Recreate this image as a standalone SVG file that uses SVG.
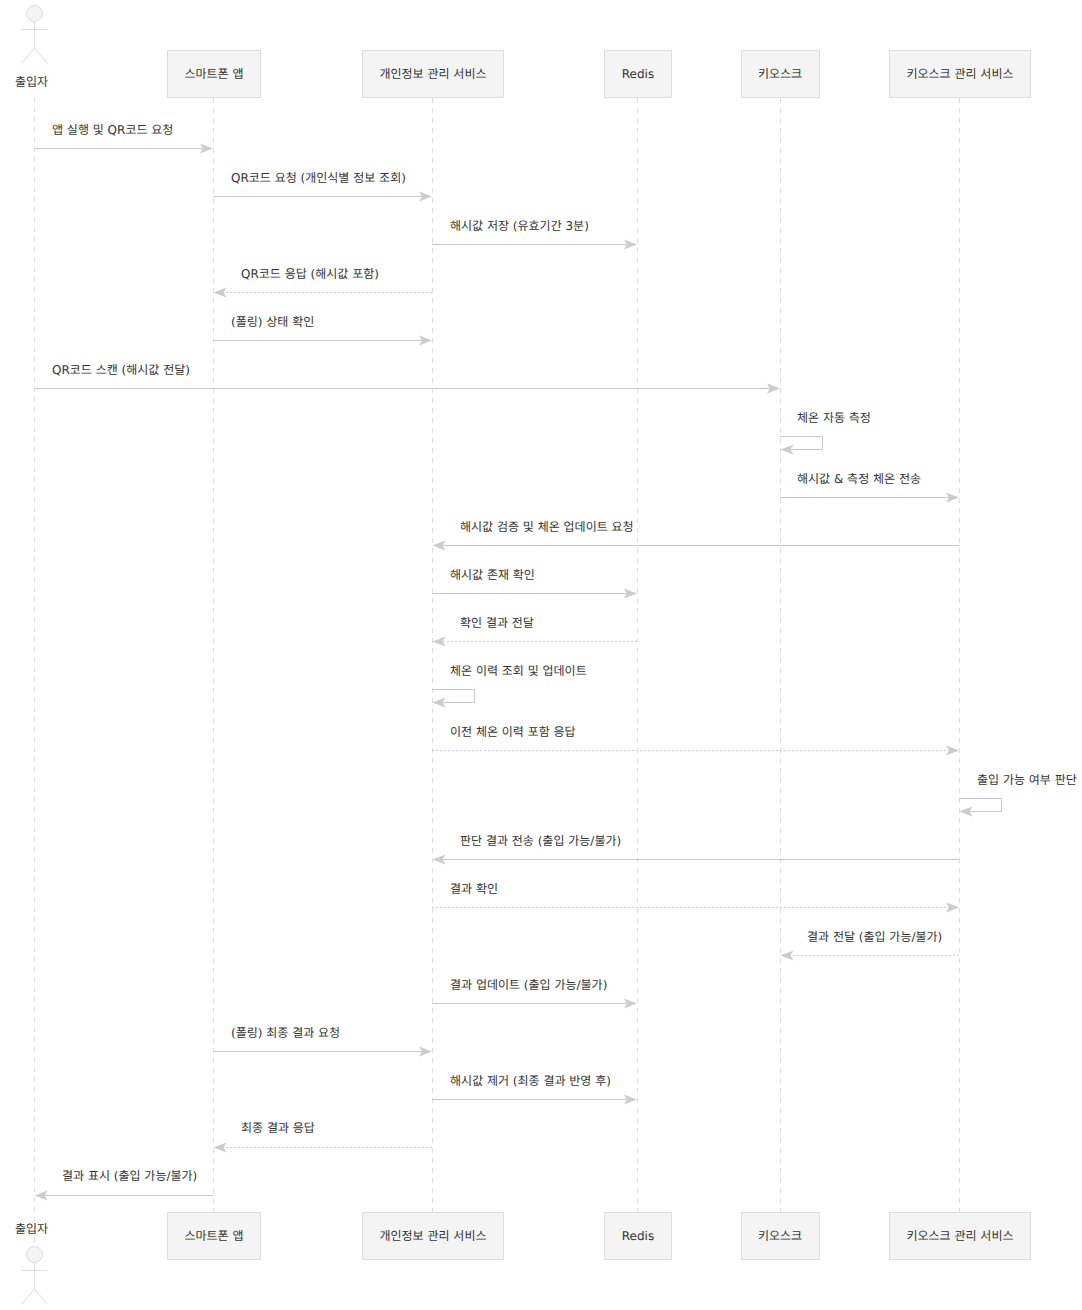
<svg xmlns="http://www.w3.org/2000/svg" width="1082" height="1310" viewBox="0 0 1082 1310">
<style>
text{font-family:"DejaVu Sans","Noto Sans CJK KR",sans-serif;font-size:12px;fill:#333;text-rendering:geometricPrecision}
.c{text-anchor:middle}
.box{fill:#f4f4f4;stroke:#dddddd;stroke-width:1}
.life{stroke:#dddddd;stroke-width:1;stroke-dasharray:5 5;fill:none}
.m{stroke:#c8c8c8;stroke-width:1;fill:none}
.r{stroke:#cccccc;stroke-width:1;stroke-dasharray:2 2;fill:none}
.h{fill:#cccccc;stroke:none}
.a{fill:#f4f4f4;stroke:#dddddd}
.l{stroke:#dddddd;fill:none}
</style>
<defs>
<path id="hr" class="h" d="M0 0L-13 -5L-10 0L-13 5Z"/>
<path id="hl" class="h" d="M0 0L13 -5L10 0L13 5Z"/>
</defs>
<g id="lifelines">
<path class="life" d="M34.5 97V1245"/><path class="life" d="M213.500 98V1212"/><path class="life" d="M432.500 98V1212"/><path class="life" d="M637.500 98V1212"/><path class="life" d="M780.500 98V1212"/><path class="life" d="M959.500 98V1212"/>
</g>
<g id="actor-top"><circle class="a" cx="34.5" cy="13.5" r="8"/><path class="l" d="M34.5 21.5V48M21.5 29.5H47.5M34.5 48L21.5 63.5M34.5 48L47.5 63.5"/><text class="c" x="31.5" y="86">출입자</text></g>
<g id="app-top"><rect class="box" x="167.5" y="50.5" width="93" height="47"/><text class="c" x="214" y="78">스마트폰 앱</text></g>
<g id="pii-top"><rect class="box" x="362.5" y="50.5" width="141" height="47"/><text class="c" x="433" y="78">개인정보 관리 서비스</text></g>
<g id="redis-top"><rect class="box" x="604.5" y="50.5" width="67" height="47"/><text class="c" x="638" y="78">Redis</text></g>
<g id="kiosk-top"><rect class="box" x="741.5" y="50.5" width="78" height="47"/><text class="c" x="780" y="78">키오스크</text></g>
<g id="kms-top"><rect class="box" x="889.5" y="50.5" width="141" height="47"/><text class="c" x="960" y="78">키오스크 관리 서비스</text></g>
<g id="actor-bottom"><text class="c" x="31.5" y="1233">출입자</text><circle class="a" cx="34.5" cy="1254.5" r="8"/><path class="l" d="M34.5 1262.5V1289M21.5 1270.5H47.5M34.5 1289L21.5 1304.5M34.5 1289L47.5 1304.5"/></g>
<g id="app-bottom"><rect class="box" x="167.5" y="1212.5" width="93" height="47"/><text class="c" x="214" y="1240">스마트폰 앱</text></g>
<g id="pii-bottom"><rect class="box" x="362.5" y="1212.5" width="141" height="47"/><text class="c" x="433" y="1240">개인정보 관리 서비스</text></g>
<g id="redis-bottom"><rect class="box" x="604.5" y="1212.5" width="67" height="47"/><text class="c" x="638" y="1240">Redis</text></g>
<g id="kiosk-bottom"><rect class="box" x="741.5" y="1212.5" width="78" height="47"/><text class="c" x="780" y="1240">키오스크</text></g>
<g id="kms-bottom"><rect class="box" x="889.5" y="1212.5" width="141" height="47"/><text class="c" x="960" y="1240">키오스크 관리 서비스</text></g>
<g id="connectors">
<path class="m" d="M34 148.500H204"/><use href="#hr" x="213" y="148.500"/>
<path class="m" d="M213 196.500H423"/><use href="#hr" x="432" y="196.500"/>
<path class="m" d="M432 244.500H628"/><use href="#hr" x="637" y="244.500"/>
<path class="r" d="M432 292.500H223"/><use href="#hl" x="213.500" y="292.500"/>
<path class="m" d="M213 340.500H423"/><use href="#hr" x="432" y="340.500"/>
<path class="m" d="M34 388.500H771"/><use href="#hr" x="780" y="388.500"/>
<path class="m" d="M780 436.500H822.500V449.500H790"/><use href="#hl" x="780.500" y="449.500"/>
<path class="m" d="M780 497.500H950"/><use href="#hr" x="959" y="497.500"/>
<path class="m" d="M959 545.500H442"/><use href="#hl" x="432.500" y="545.500"/>
<path class="m" d="M432 593.500H628"/><use href="#hr" x="637" y="593.500"/>
<path class="r" d="M637 641.500H442"/><use href="#hl" x="432.500" y="641.500"/>
<path class="m" d="M432 689.500H474.500V702.500H442"/><use href="#hl" x="432.500" y="702.500"/>
<path class="r" d="M432 750.500H950"/><use href="#hr" x="959" y="750.500"/>
<path class="m" d="M959 798.500H1001.500V811.500H969"/><use href="#hl" x="959.500" y="811.500"/>
<path class="m" d="M959 859.500H442"/><use href="#hl" x="432.500" y="859.500"/>
<path class="r" d="M432 907.500H950"/><use href="#hr" x="959" y="907.500"/>
<path class="r" d="M959 955.500H790"/><use href="#hl" x="780.500" y="955.500"/>
<path class="m" d="M432 1003.500H628"/><use href="#hr" x="637" y="1003.500"/>
<path class="m" d="M213 1051.500H423"/><use href="#hr" x="432" y="1051.500"/>
<path class="m" d="M432 1099.500H628"/><use href="#hr" x="637" y="1099.500"/>
<path class="r" d="M432 1147.500H223"/><use href="#hl" x="213.500" y="1147.500"/>
<path class="m" d="M213 1195.500H44"/><use href="#hl" x="34.500" y="1195.500"/>
</g>
<g id="labels">
<text x="52" y="134">앱 실행 및 QR코드 요청</text>
<text x="231" y="182">QR코드 요청 (개인식별 정보 조회)</text>
<text x="450" y="230">해시값 저장 (유효기간 3분)</text>
<text x="241" y="278">QR코드 응답 (해시값 포함)</text>
<text x="231" y="326">(폴링) 상태 확인</text>
<text x="52" y="374">QR코드 스캔 (해시값 전달)</text>
<text x="797" y="422">체온 자동 측정</text>
<text x="797" y="483">해시값 &amp; 측정 체온 전송</text>
<text x="460" y="531">해시값 검증 및 체온 업데이트 요청</text>
<text x="450" y="579">해시값 존재 확인</text>
<text x="460" y="627">확인 결과 전달</text>
<text x="450" y="675">체온 이력 조회 및 업데이트</text>
<text x="450" y="736">이전 체온 이력 포함 응답</text>
<text x="977" y="784">출입 가능 여부 판단</text>
<text x="460" y="845">판단 결과 전송 (출입 가능/불가)</text>
<text x="450" y="893">결과 확인</text>
<text x="807" y="941">결과 전달 (출입 가능/불가)</text>
<text x="450" y="989">결과 업데이트 (출입 가능/불가)</text>
<text x="231" y="1037">(폴링) 최종 결과 요청</text>
<text x="450" y="1085">해시값 제거 (최종 결과 반영 후)</text>
<text x="241" y="1132">최종 결과 응답</text>
<text x="62" y="1180">결과 표시 (출입 가능/불가)</text>
</g>
</svg>
